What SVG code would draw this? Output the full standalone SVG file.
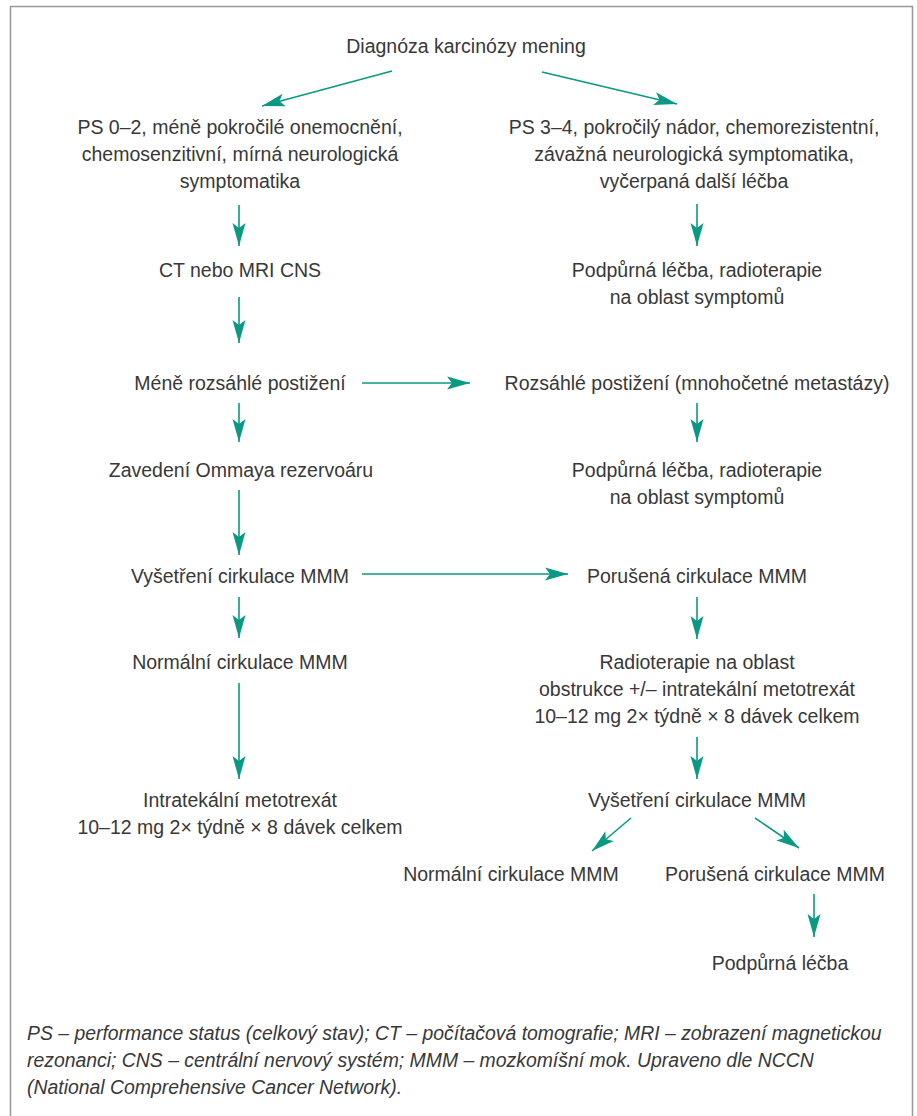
<svg xmlns="http://www.w3.org/2000/svg" width="917" height="1116" viewBox="0 0 917 1116">
<style>
.t{font-family:"Liberation Sans",Arial,sans-serif;font-size:19.5px;fill:#383838;text-anchor:middle}
.f{font-family:"Liberation Sans",Arial,sans-serif;font-size:19.4px;fill:#383838;font-style:italic}
.c{stroke:#0a9982;stroke-width:1.6;fill:none;marker-end:url(#ah)}
</style>
<defs>
<marker id="ah" markerUnits="userSpaceOnUse" markerWidth="24" markerHeight="14" refX="23" refY="7" orient="auto">
<path d="M0,0.5 L23,7 L0,13.5 L5,7 Z" fill="#0a9982"/>
</marker>
</defs>
<rect x="10.5" y="6.5" width="902" height="1130" fill="#fff" stroke="#999" stroke-width="1.5"/>
<g id="connectors">
<path class="c" d="M392,71 L262,106"/>
<path class="c" d="M542,72 L677,104"/>
<path class="c" d="M239,205 L239,246"/>
<path class="c" d="M697,204 L697,246"/>
<path class="c" d="M239,297 L239,343"/>
<path class="c" d="M362,383 L470,383"/>
<path class="c" d="M239,403 L239,442"/>
<path class="c" d="M697,403 L697,442"/>
<path class="c" d="M239,490 L239,555"/>
<path class="c" d="M362,574 L568,574"/>
<path class="c" d="M239,597 L239,638"/>
<path class="c" d="M697,597 L697,639"/>
<path class="c" d="M239,683 L239,779"/>
<path class="c" d="M697,737 L697,779"/>
<path class="c" d="M631,818 L592,851"/>
<path class="c" d="M755,818 L799,848"/>
<path class="c" d="M814,894 L814,937"/>
</g>
<g id="n-diag"><text class="t" x="466" y="53">Diagnóza karcinózy mening</text></g>
<g id="n-ps02"><text class="t" x="240" y="134">PS 0–2, méně pokročilé onemocnění,</text><text class="t" x="240" y="161">chemosenzitivní, mírná neurologická</text><text class="t" x="240" y="188">symptomatika</text></g>
<g id="n-ps34"><text class="t" x="694" y="134">PS 3–4, pokročilý nádor, chemorezistentní,</text><text class="t" x="694" y="161">závažná neurologická symptomatika,</text><text class="t" x="694" y="188">vyčerpaná další léčba</text></g>
<g id="n-ct"><text class="t" x="240" y="277">CT nebo MRI CNS</text></g>
<g id="n-podp1"><text class="t" x="697" y="277">Podpůrná léčba, radioterapie</text><text class="t" x="697" y="304">na oblast symptomů</text></g>
<g id="n-mene"><text class="t" x="240" y="390">Méně rozsáhlé postižení</text></g>
<g id="n-rozs"><text class="t" x="697" y="390">Rozsáhlé postižení (mnohočetné metastázy)</text></g>
<g id="n-ommaya"><text class="t" x="241" y="477">Zavedení Ommaya rezervoáru</text></g>
<g id="n-podp2"><text class="t" x="697" y="477">Podpůrná léčba, radioterapie</text><text class="t" x="697" y="504">na oblast symptomů</text></g>
<g id="n-vys1"><text class="t" x="240" y="583">Vyšetření cirkulace MMM</text></g>
<g id="n-por1"><text class="t" x="697" y="583">Porušená cirkulace MMM</text></g>
<g id="n-norm1"><text class="t" x="240" y="669">Normální cirkulace MMM</text></g>
<g id="n-radio"><text class="t" x="697" y="669">Radioterapie na oblast</text><text class="t" x="697" y="696">obstrukce +/– intratekální metotrexát</text><text class="t" x="697" y="723">10–12 mg 2× týdně × 8 dávek celkem</text></g>
<g id="n-intra"><text class="t" x="240" y="807">Intratekální metotrexát</text><text class="t" x="240" y="834">10–12 mg 2× týdně × 8 dávek celkem</text></g>
<g id="n-vys2"><text class="t" x="697" y="807">Vyšetření cirkulace MMM</text></g>
<g id="n-norm2"><text class="t" x="511" y="881">Normální cirkulace MMM</text></g>
<g id="n-por2"><text class="t" x="775" y="881">Porušená cirkulace MMM</text></g>
<g id="n-podp3"><text class="t" x="780" y="970">Podpůrná léčba</text></g>
<g id="footer">
<text class="f" x="27" y="1040">PS – performance status (celkový stav); CT – počítačová tomografie; MRI – zobrazení magnetickou</text>
<text class="f" x="27" y="1067">rezonanci; CNS – centrální nervový systém; MMM – mozkomíšní mok. Upraveno dle NCCN</text>
<text class="f" x="27" y="1094">(National Comprehensive Cancer Network).</text>
</g>
</svg>
